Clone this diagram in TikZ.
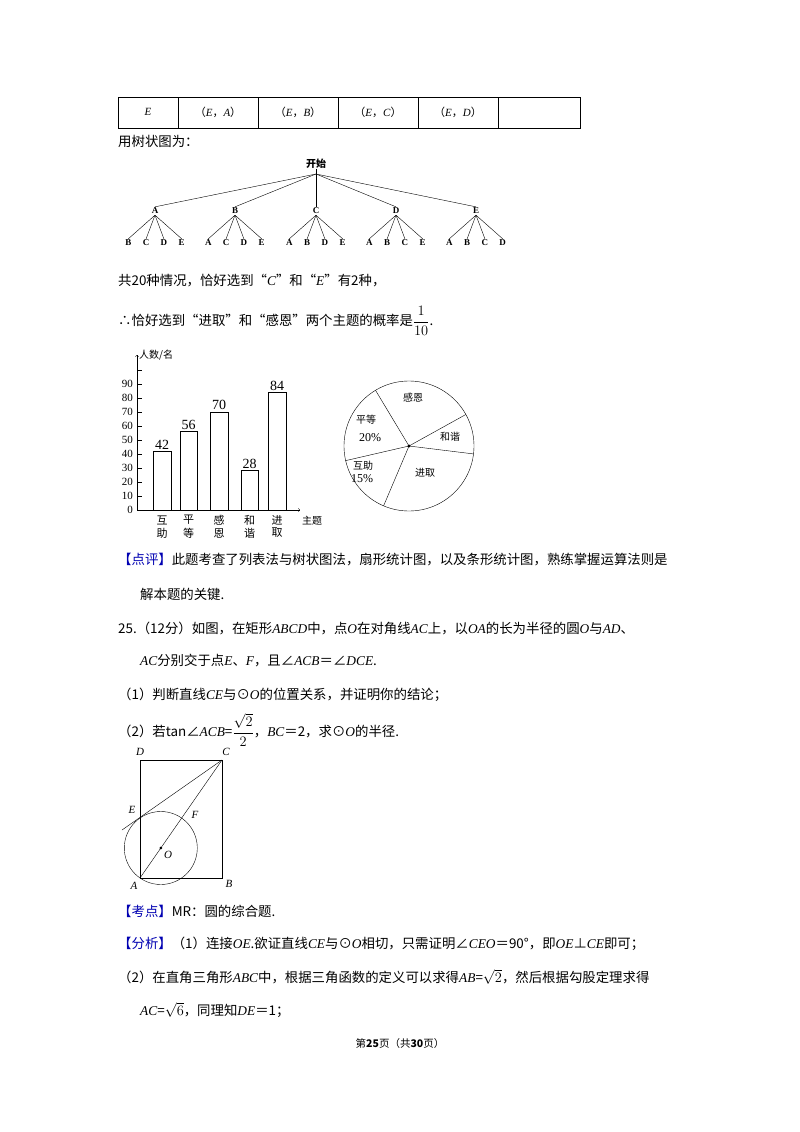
\documentclass[tikz,border=0pt]{standalone}
\usepackage{fontspec}
\setmainfont{Liberation Serif}
\newfontfamily\cjk{Noto Sans CJK SC}
\newcommand\li[1]{{\rmfamily\itshape #1}}
\begin{document}
\begin{tikzpicture}[x=1pt,y=-1pt,
 txt/.style={anchor=west,inner sep=0,font=\cjk\fontsize{13.4}{15}\selectfont},
 sm/.style={inner sep=0,font=\fontsize{11}{11}\selectfont},
 smc/.style={inner sep=0,font=\cjk\fontsize{10}{11}\selectfont},
 tr/.style={inner sep=1pt,font=\bfseries\fontsize{9}{9}\selectfont},
 gl/.style={inner sep=0,font=\itshape\fontsize{11}{11}\selectfont}]
\useasboundingbox[fill=white] (0,0) rectangle (800,1132);
% table
\draw (118,97) rectangle (580,128);
\foreach \x in {178,258,338,418,498} \draw (\x,97) -- (\x,128);
\node[sm] (t0) at (148,112) {\li{E}};
\node[sm] (t1) at (218,112) {\cjk（\li{E}，\li{A}）};
\node[sm] (t2) at (298,112) {\cjk（\li{E}，\li{B}）};
\node[sm] (t3) at (378,112) {\cjk（\li{E}，\li{C}）};
\node[sm] (t4) at (458,112) {\cjk（\li{E}，\li{D}）};
\node[txt] (l1) at (118,141) {用树状图为：};
% tree
\node[inner sep=0,font=\cjk\bfseries\fontsize{10}{10}\selectfont] (root) at (316,164) {开始};
\coordinate (fork) at (316,174);
\draw (root.south) -- (fork);
\foreach \n/\x/\kids in {A/155/{B,C,D,E},B/235/{A,C,D,E},C/316/{A,B,D,E},D/396/{A,B,C,E},E/476/{A,B,C,D}}{
  \node[tr] (\n) at (\x,211) {\n};
  \draw (fork) -- (\n.north);
  \foreach \k [count=\i] in \kids {
    \node[tr] (\n\k) at ({\x+(\i-2.5)*17.8},243) {\k};
    \draw (\n.south) -- (\n\k.north);
  }
}
\node[txt] (l2) at (118,281) {共20种情况，恰好选到“\li{C}”和“\li{E}”有2种，};
\node[txt] (l3) at (118,321) {∴恰好选到“进取”和“感恩”两个主题的概率是$\displaystyle\frac{1}{10}$.};
% bar chart
\draw[->] (137,510) -- (137,355);
\draw[->] (137,510) -- (300,510);
\node[smc,anchor=west] (yl) at (139,355) {人数/名};
\node[smc,anchor=west] (xl) at (302,521) {主题};
\foreach \v in {0,10,...,90} \node[sm,anchor=east,font=\fontsize{11}{11}\selectfont] at (133,{510-1.4*\v}) {\v};
\foreach \v in {10,20,...,100} \draw (137,{510-1.4*\v}) -- (142,{510-1.4*\v});
\foreach \a/\b/\v/\t/\u in {153/171/42/互/助,180/197/56/平/等,210/228/70/感/恩,241/258/28/和/谐,268/286/84/进/取}{
  \draw[line width=1pt] (\a,510) rectangle (\b,{510-1.4*\v});
  \node[sm,font=\fontsize{14}{14}\selectfont,anchor=south] at ({(\a+\b)/2},{508-1.4*\v}) {\v};
  \node[smc,font=\cjk\fontsize{11}{11}\selectfont] at ({(\a+\b)/2},520) {\t};
  \node[smc,font=\cjk\fontsize{11}{11}\selectfont] at ({(\a+\b)/2},533) {\u};
}
% pie
\coordinate (pc) at (409,446);
\draw (pc) circle (65);
\fill (pc) circle (1.6);
\foreach \ang in {121,29,-7,247,193} \draw (pc) -- ++(-\ang:65);
\node[smc] at (413,398) {感恩};
\node[smc] at (450,437) {和谐};
\node[smc] at (425,473) {进取};
\node[smc] at (366,420) {平等};
\node[sm,font=\fontsize{12}{12}\selectfont] at (370,438) {20\%};
\node[smc] at (363,466) {互助};
\node[sm,font=\fontsize{12}{12}\selectfont] at (362,479) {15\%};
% text
\node[txt] (l4) at (118,560) {\textcolor{blue!70!black}{【点评】}此题考查了列表法与树状图法，扇形统计图，以及条形统计图，熟练掌握运算法则是};
\node[txt] (l5) at (140,594) {解本题的关键.};
\node[txt] (l6) at (118,628) {25.（12分）如图，在矩形\li{ABCD}中，点\li{O}在对角线\li{AC}上，以\li{OA}的长为半径的圆\li{O}与\li{AD}、};
\node[txt] (l7) at (140,661) {\li{AC}分别交于点\li{E}、\li{F}，且∠\li{ACB}＝∠\li{DCE}.};
\node[txt] (l8) at (118,695) {（1）判断直线\li{CE}与⊙\li{O}的位置关系，并证明你的结论；};
\node[txt] (l9) at (118,730) {（2）若tan∠\li{ACB}=$\displaystyle\frac{\sqrt{2}}{2}$，\li{BC}＝2，求⊙\li{O}的半径.};
% geometry
\coordinate (D) at (140,760); \coordinate (C) at (222,760);
\coordinate (A) at (140,878); \coordinate (B) at (222,878);
\coordinate (OO) at (160.8,848); \coordinate (E) at (140,818);
\coordinate (Ext) at (122,830);
\draw (A) rectangle (C);
\draw (OO) circle (36.5);
\draw (A) -- (C);
\draw (C) -- (Ext);
\fill (OO) circle (1.5);
\node[gl] (lD) at (140,752) {D};
\node[gl] (lC) at (226,752) {C};
\node[gl] (lE) at (132,810) {E};
\node[gl] (lF) at (195,815) {F};
\node[gl] (lO) at (168,855) {O};
\node[gl] (lA) at (134,886) {A};
\node[gl] (lB) at (229,884) {B};
\node[txt] (l10) at (118,911) {\textcolor{blue!70!black}{【考点】}MR：圆的综合题.};
\node[txt] (l11) at (118,944) {\textcolor{blue!70!black}{【分析】}（1）连接\li{OE}.欲证直线\li{CE}与⊙\li{O}相切，只需证明∠\li{CEO}＝90°，即\li{OE}⊥\li{CE}即可；};
\node[txt] (l12) at (118,977) {（2）在直角三角形\li{ABC}中，根据三角函数的定义可以求得\li{AB}=$\sqrt{2}$，然后根据勾股定理求得};
\node[txt] (l13) at (140,1010) {\li{AC}=$\sqrt{6}$，同理知\li{DE}＝1；};
\node[txt,anchor=center,font=\cjk\fontsize{10.5}{11}\selectfont] (pg) at (400,1043) {第\textbf{25}页（共\textbf{30}页）};
\end{tikzpicture}
\end{document}
